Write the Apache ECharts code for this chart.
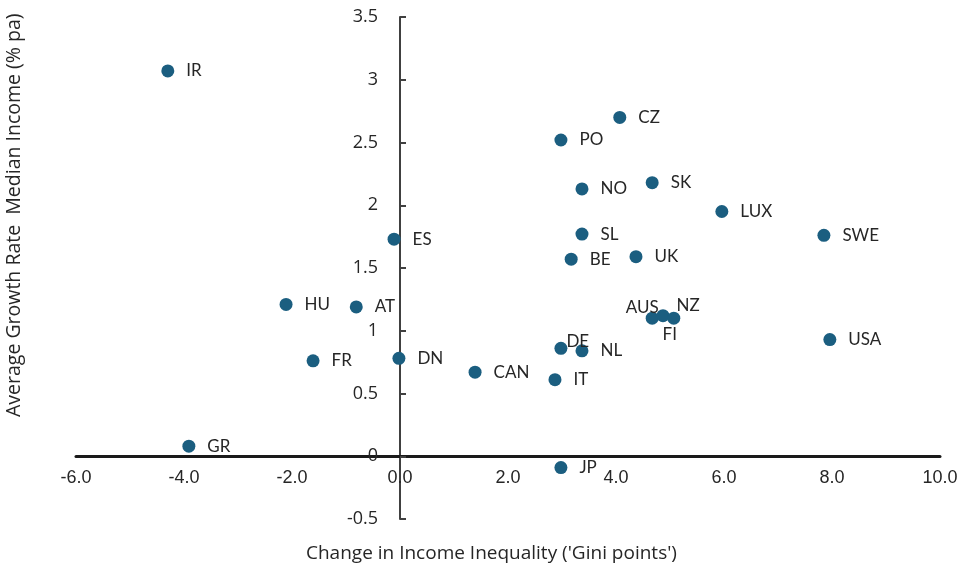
<!DOCTYPE html>
<html><head><meta charset="utf-8">
<script src="https://cdn.jsdelivr.net/npm/echarts@6/dist/echarts.min.js"></script>
<style>html,body{margin:0;padding:0;background:#fff}#c{width:963px;height:572px}</style>
</head><body><div id="c"></div>
<script>
var countries = ['IR','CZ','PO','NO','SK','LUX','SWE','ES','SL','BE','UK','HU','AT','AUS','NZ','FI','USA','DE','NL','FR','DN','CAN','IT','GR','JP'];
var giniChange = [-4.30,4.07,2.98,3.37,4.67,5.96,7.85,-0.11,3.37,3.17,4.37,-2.11,-0.81,4.67,4.87,5.07,7.96,2.98,3.37,-1.61,-0.02,1.39,2.87,-3.91,2.98];
var incomeGrowth = [3.07,2.70,2.52,2.13,2.18,1.95,1.76,1.73,1.77,1.57,1.59,1.21,1.19,1.10,1.12,1.10,0.93,0.86,0.84,0.76,0.78,0.67,0.61,0.08,-0.09];
var xTicks = ['-6.0','-4.0','-2.0','0.0','2.0','4.0','6.0','8.0','10.0'];
var yTicks = ['-0.5','0','0.5','1','1.5','2','2.5','3','3.5'];

var labelTweaks = {
  'AUS': {position:'left', offset:[25,-11]},
  'NZ': {position:'right', offset:[-5,-10]},
  'FI': {position:'bottom', offset:[-4,-11]},
  'DE': {position:'right', offset:[-13,-7]}
};

var data = countries.map(function(n,i){
  var d = {name:n, value:[giniChange[i], incomeGrowth[i]]};
  if (labelTweaks[n]) d.label = labelTweaks[n];
  return d;
});

var W = 963, H = 572;
var grid = {left:76,right:23,top:17,bottom:53};
var xMin=-6,xMax=10,yMin=-0.5,yMax=3.5;
var plotW = W-grid.left-grid.right, plotH = H-grid.top-grid.bottom;
// axes cross at zero: shift each axis from its grid edge to the zero of the other axis
var xAxisOffset = -Math.round((0-yMin)/(yMax-yMin)*plotH);
var yAxisOffset = -Math.round((0-xMin)/(xMax-xMin)*plotW);

var chart = echarts.init(document.getElementById('c'));
chart.setOption({
  animation:false,
  grid:grid,
  xAxis:{type:'value',min:xMin,max:xMax,interval:2,offset:xAxisOffset,
    axisLine:{onZero:false,lineStyle:{color:'#1a1a1a',width:3}},
    axisTick:{show:false},splitLine:{show:false},
    axisLabel:{margin:13,color:'#262626',fontFamily:'Liberation Sans',fontSize:18,
      formatter:function(v){var i=Math.round((v-xMin)/2);return xTicks[i]!==undefined?xTicks[i]:'';}}
  },
  yAxis:{type:'value',min:yMin,max:yMax,interval:0.5,offset:yAxisOffset,
    axisLine:{show:true,onZero:false,lineStyle:{color:'#404040',width:2}},
    axisTick:{show:true,inside:true,length:6,lineStyle:{color:'#404040',width:2}},
    splitLine:{show:false},
    axisLabel:{margin:22,color:'#262626',fontFamily:'Open Sans',fontSize:18,
      formatter:function(v){var i=Math.round((v-yMin)/0.5);return yTicks[i]!==undefined?yTicks[i]:'';}}
  },
  graphic:[
    {type:'text',left:306,top:544,style:{text:"Change in Income Inequality ('Gini points')",fill:'#262626',font:'19px "Open Sans"'}},
    {type:'text',rotation:Math.PI/2,x:4,y:417,style:{text:'Average Growth Rate  Median Income (% pa)',fill:'#262626',font:'19.5px "Open Sans"'}}
  ],
  series:[{type:'scatter',symbolSize:13,data:data,
    itemStyle:{color:'#1b5e80',opacity:1},
    label:{show:true,position:'right',distance:12,formatter:'{b}',color:'#262626',fontFamily:'Lato',fontSize:17}
  }]
});
</script></body></html>
